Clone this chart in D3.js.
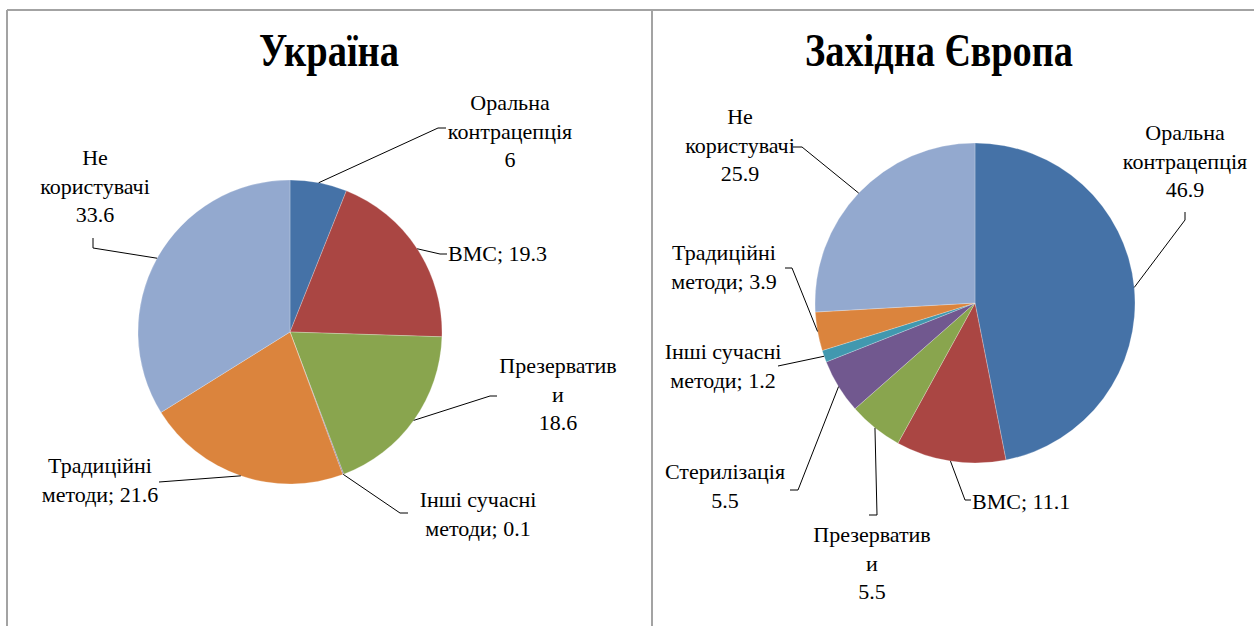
<!DOCTYPE html>
<html>
<head>
<meta charset="utf-8">
<script src="https://cdn.jsdelivr.net/npm/d3@7"></script>
<style>
  body { margin: 0; background: #fff; }
  svg { display: block; }
</style>
</head>
<body>
<div id="chart"></div>
<script>
// Україна
const ukrCategories = ['Оральна контрацепція', 'ВМС', 'Презервативи', 'Інші сучасні методи', 'Традиційні методи', 'Не користувачі'];
const ukrValues = [6, 19.3, 18.6, 0.1, 21.6, 33.6];
const ukrNameLines = [['Оральна', 'контрацепція'], ['ВМС'], ['Презерватив', 'и'], ['Інші сучасні', 'методи'], ['Традиційні', 'методи'], ['Не', 'користувачі']];
const ukrValueSep = ['\n', '; ', '\n', '; ', '; ', '\n'];

// Західна Європа
const eurCategories = ['Оральна контрацепція', 'ВМС', 'Презервативи', 'Стерилізація', 'Інші сучасні методи', 'Традиційні методи', 'Не користувачі'];
const eurValues = [46.9, 11.1, 5.5, 5.5, 1.2, 3.9, 25.9];
const eurNameLines = [['Оральна', 'контрацепція'], ['ВМС'], ['Презерватив', 'и'], ['Стерилізація'], ['Інші сучасні', 'методи'], ['Традиційні', 'методи'], ['Не', 'користувачі']];
const eurValueSep = ['\n', '; ', '\n', '\n', '; ', '; ', '\n'];

const ukrColors = ['#4572A7', '#AA4643', '#89A54E', '#71588F', '#DB843D', '#93A9CF'];
const eurColors = ['#4572A7', '#AA4643', '#89A54E', '#71588F', '#4198AF', '#DB843D', '#93A9CF'];

// label placement (Excel "best fit" style), leader points after the slice edge
const ukrLabelPos = [
    { x: 510, y: 110, anchor: 'middle', pts: [[438, 128], [446, 128]] },
    { x: 448, y: 261, anchor: 'start', pts: [[440, 254], [447, 254]] },
    { x: 558, y: 373, anchor: 'middle', pts: [[490, 396], [497, 396]] },
    { x: 478, y: 507, anchor: 'middle', pts: [[400, 513], [408, 513]] },
    { x: 100, y: 473, anchor: 'middle', pts: [[159, 482]] },
    { x: 95, y: 165, anchor: 'middle', pts: [[93, 248], [93, 238]] }
];
const eurLabelPos = [
    { x: 1185, y: 140, anchor: 'middle', pts: [[1185, 220], [1185, 212]] },
    { x: 972, y: 509, anchor: 'start', pts: [[965, 500], [971, 500]] },
    { x: 872, y: 542, anchor: 'middle', pts: [[877, 515], [869, 515]] },
    { x: 725, y: 479, anchor: 'middle', pts: [[798, 490], [790, 490]] },
    { x: 723, y: 359, anchor: 'middle', pts: [[778, 366]] },
    { x: 724, y: 260, anchor: 'middle', pts: [[792, 268], [785, 268]] },
    { x: 740, y: 124, anchor: 'middle', pts: [[802, 147], [793, 147]] }
];

const width = 1254;
const height = 626;
const fontFamily = 'Liberation Serif';

const svg = d3.select('#chart')
    .append('svg')
    .attr('width', width)
    .attr('height', height);

// panel frames
const frame = svg.append('g')
    .attr('stroke', '#a3a3a3')
    .attr('stroke-width', 2)
    .attr('fill', 'none');
frame.append('line').attr('x1', 7).attr('y1', 10).attr('x2', width).attr('y2', 10);
frame.append('line').attr('x1', 7).attr('y1', 10).attr('x2', 7).attr('y2', height);
frame.append('line').attr('x1', 652).attr('y1', 10).attr('x2', 652).attr('y2', height);

function drawPie(opts) {
    const g = svg.append('g');

    g.append('text')
        .attr('x', opts.titleX)
        .attr('y', 66)
        .attr('text-anchor', 'middle')
        .attr('font-family', fontFamily)
        .attr('font-size', 46)
        .attr('font-weight', 'bold')
        .attr('textLength', opts.titleWidth)
        .attr('lengthAdjust', 'spacingAndGlyphs')
        .text(opts.title);

    const pie = d3.pie().sort(null).value(d => d.value);
    const data = opts.categories.map((c, i) => ({ name: c, value: opts.values[i] }));
    const arcs = pie(data);

    const arc = d3.arc().innerRadius(0).outerRadius(opts.r);
    const edge = d3.arc().innerRadius(opts.r).outerRadius(opts.r);

    const pieG = g.append('g')
        .attr('transform', `translate(${opts.cx}, ${opts.cy})`);

    pieG.selectAll('path')
        .data(arcs)
        .join('path')
        .attr('d', arc)
        .attr('fill', d => opts.colors[d.index])
        .attr('stroke', '#ffffff')
        .attr('stroke-opacity', 0.4)
        .attr('stroke-width', 0.6);

    // leader lines
    arcs.forEach((a, i) => {
        const c = edge.centroid(a);
        const pts = [[opts.cx + c[0], opts.cy + c[1]]].concat(opts.labelPos[i].pts);
        g.append('path')
            .attr('d', d3.line()(pts))
            .attr('fill', 'none')
            .attr('stroke', '#000')
            .attr('stroke-width', 1);
    });

    // labels
    arcs.forEach((a, i) => {
        const pos = opts.labelPos[i];
        const lines = opts.nameLines[i].slice();
        if (opts.valueSep[i] === '\n') {
            lines.push(String(a.data.value));
        } else {
            lines[lines.length - 1] += opts.valueSep[i] + a.data.value;
        }
        lines.forEach((line, j) => {
            g.append('text')
                .attr('x', pos.x)
                .attr('y', Math.round(pos.y + j * 28.5))
                .attr('font-family', fontFamily)
                .attr('font-size', 22)
                .attr('fill', '#000')
                .attr('text-anchor', pos.anchor)
                .text(line);
        });
    });
}

drawPie({
    title: 'Україна',
    titleX: 329,
    titleWidth: 140,
    cx: 290, cy: 332, r: 152,
    categories: ukrCategories,
    values: ukrValues,
    colors: ukrColors,
    nameLines: ukrNameLines,
    valueSep: ukrValueSep,
    labelPos: ukrLabelPos
});

drawPie({
    title: 'Західна Європа',
    titleX: 939,
    titleWidth: 268,
    cx: 975, cy: 303, r: 160,
    categories: eurCategories,
    values: eurValues,
    colors: eurColors,
    nameLines: eurNameLines,
    valueSep: eurValueSep,
    labelPos: eurLabelPos
});
</script>
</body>
</html>
